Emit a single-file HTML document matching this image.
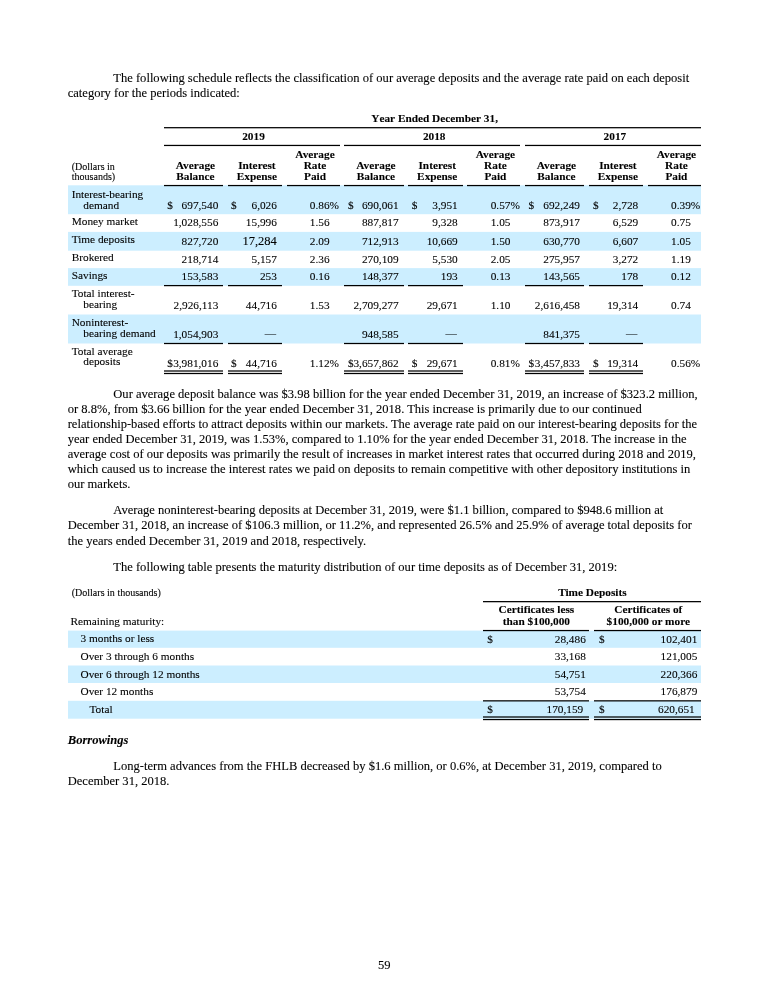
<!DOCTYPE html>
<html><head><meta charset="utf-8"><title>Page 59</title>
<style>
html,body{margin:0;padding:0;background:#fff;overflow:hidden;}
html{width:768px;height:993px;}
body{width:768px;height:993px;position:relative;overflow:hidden;font-family:"Liberation Serif",serif;color:#000;}
.t{position:absolute;white-space:nowrap;-webkit-text-stroke:0.1px #000;}
.b{font-weight:bold;}
.bi{font-weight:bold;font-style:italic;}
.r{position:absolute;}
#pg{position:absolute;left:0;top:0;width:768px;height:993px;overflow:hidden;will-change:transform;}
</style></head><body><div id="pg">
<div class="t" style="top:71px;font-size:12.55px;line-height:15px;left:113.30px;">The following schedule reflects the classification of our average deposits and the average rate paid on each deposit</div>
<div class="t" style="top:86px;font-size:12.55px;line-height:15px;left:67.70px;">category for the periods indicated:</div>
<div class="r" style="left:68px;top:186px;width:633px;height:28px;background:#cceeff"></div>
<div class="r" style="left:68px;top:185px;width:633px;height:1px;background:#dbf3ff"></div>
<div class="r" style="left:68px;top:214px;width:633px;height:1px;background:#f5fcff"></div>
<div class="r" style="left:68px;top:232px;width:633px;height:18px;background:#cceeff"></div>
<div class="r" style="left:68px;top:231px;width:633px;height:1px;background:#fafdff"></div>
<div class="r" style="left:68px;top:250px;width:633px;height:1px;background:#dbf3ff"></div>
<div class="r" style="left:68px;top:269px;width:633px;height:16px;background:#cceeff"></div>
<div class="r" style="left:68px;top:268px;width:633px;height:1px;background:#d1f0ff"></div>
<div class="r" style="left:68px;top:285px;width:633px;height:1px;background:#d6f1ff"></div>
<div class="r" style="left:68px;top:315px;width:633px;height:28px;background:#cceeff"></div>
<div class="r" style="left:68px;top:314px;width:633px;height:1px;background:#e6f6ff"></div>
<div class="r" style="left:68px;top:343px;width:633px;height:1px;background:#e6f6ff"></div>
<div class="t b" style="top:112px;font-size:11.3px;line-height:13px;left:354.60px;width:160px;text-align:center;font-kerning:none;">Year Ended December 31,</div>
<div class="r" style="left:164.00px;top:127px;width:537.00px;height:2px;background:linear-gradient(to bottom, rgba(0,0,0,0.925) 0px, rgba(0,0,0,0.925) 1px, rgba(0,0,0,0.325) 1px, rgba(0,0,0,0.325) 2px)"></div>
<div class="t b" style="top:130px;font-size:11.3px;line-height:13px;left:173.50px;width:160px;text-align:center;">2019</div>
<div class="t b" style="top:130px;font-size:11.3px;line-height:13px;left:354.20px;width:160px;text-align:center;">2018</div>
<div class="t b" style="top:130px;font-size:11.3px;line-height:13px;left:534.90px;width:160px;text-align:center;">2017</div>
<div class="r" style="left:164.00px;top:144px;width:176.00px;height:3px;background:linear-gradient(to bottom, rgba(0,0,0,0.175) 0px, rgba(0,0,0,0.175) 1px, rgba(0,0,0,1.000) 1px, rgba(0,0,0,1.000) 2px, rgba(0,0,0,0.075) 2px, rgba(0,0,0,0.075) 3px)"></div>
<div class="r" style="left:344.00px;top:144px;width:176.00px;height:3px;background:linear-gradient(to bottom, rgba(0,0,0,0.175) 0px, rgba(0,0,0,0.175) 1px, rgba(0,0,0,1.000) 1px, rgba(0,0,0,1.000) 2px, rgba(0,0,0,0.075) 2px, rgba(0,0,0,0.075) 3px)"></div>
<div class="r" style="left:525.00px;top:144px;width:176.00px;height:3px;background:linear-gradient(to bottom, rgba(0,0,0,0.175) 0px, rgba(0,0,0,0.175) 1px, rgba(0,0,0,1.000) 1px, rgba(0,0,0,1.000) 2px, rgba(0,0,0,0.075) 2px, rgba(0,0,0,0.075) 3px)"></div>
<div class="t" style="top:161px;font-size:10.04px;line-height:12px;left:71.70px;">(Dollars in</div>
<div class="t" style="top:171px;font-size:10.04px;line-height:12px;left:71.70px;">thousands)</div>
<div class="t b" style="top:159px;font-size:11.3px;line-height:13px;left:115.40px;width:160px;text-align:center;">Average</div>
<div class="t b" style="top:170px;font-size:11.3px;line-height:13px;left:115.40px;width:160px;text-align:center;">Balance</div>
<div class="r" style="left:164.00px;top:184px;width:59.00px;height:3px;background:linear-gradient(to bottom, rgba(0,0,0,0.075) 0px, rgba(0,0,0,0.075) 1px, rgba(0,0,0,1.000) 1px, rgba(0,0,0,1.000) 2px, rgba(0,0,0,0.175) 2px, rgba(0,0,0,0.175) 3px)"></div>
<div class="t b" style="top:159px;font-size:11.3px;line-height:13px;left:176.90px;width:160px;text-align:center;">Interest</div>
<div class="t b" style="top:170px;font-size:11.3px;line-height:13px;left:176.90px;width:160px;text-align:center;">Expense</div>
<div class="r" style="left:228.00px;top:184px;width:54.00px;height:3px;background:linear-gradient(to bottom, rgba(0,0,0,0.075) 0px, rgba(0,0,0,0.075) 1px, rgba(0,0,0,1.000) 1px, rgba(0,0,0,1.000) 2px, rgba(0,0,0,0.175) 2px, rgba(0,0,0,0.175) 3px)"></div>
<div class="t b" style="top:148px;font-size:11.3px;line-height:13px;left:235.00px;width:160px;text-align:center;">Average</div>
<div class="t b" style="top:159px;font-size:11.3px;line-height:13px;left:235.00px;width:160px;text-align:center;">Rate</div>
<div class="t b" style="top:170px;font-size:11.3px;line-height:13px;left:235.00px;width:160px;text-align:center;">Paid</div>
<div class="r" style="left:287.00px;top:184px;width:53.00px;height:3px;background:linear-gradient(to bottom, rgba(0,0,0,0.075) 0px, rgba(0,0,0,0.075) 1px, rgba(0,0,0,1.000) 1px, rgba(0,0,0,1.000) 2px, rgba(0,0,0,0.175) 2px, rgba(0,0,0,0.175) 3px)"></div>
<div class="t b" style="top:159px;font-size:11.3px;line-height:13px;left:295.90px;width:160px;text-align:center;">Average</div>
<div class="t b" style="top:170px;font-size:11.3px;line-height:13px;left:295.90px;width:160px;text-align:center;">Balance</div>
<div class="r" style="left:344.00px;top:184px;width:60.00px;height:3px;background:linear-gradient(to bottom, rgba(0,0,0,0.075) 0px, rgba(0,0,0,0.075) 1px, rgba(0,0,0,1.000) 1px, rgba(0,0,0,1.000) 2px, rgba(0,0,0,0.175) 2px, rgba(0,0,0,0.175) 3px)"></div>
<div class="t b" style="top:159px;font-size:11.3px;line-height:13px;left:357.20px;width:160px;text-align:center;">Interest</div>
<div class="t b" style="top:170px;font-size:11.3px;line-height:13px;left:357.20px;width:160px;text-align:center;">Expense</div>
<div class="r" style="left:408.00px;top:184px;width:55.00px;height:3px;background:linear-gradient(to bottom, rgba(0,0,0,0.075) 0px, rgba(0,0,0,0.075) 1px, rgba(0,0,0,1.000) 1px, rgba(0,0,0,1.000) 2px, rgba(0,0,0,0.175) 2px, rgba(0,0,0,0.175) 3px)"></div>
<div class="t b" style="top:148px;font-size:11.3px;line-height:13px;left:415.40px;width:160px;text-align:center;">Average</div>
<div class="t b" style="top:159px;font-size:11.3px;line-height:13px;left:415.40px;width:160px;text-align:center;">Rate</div>
<div class="t b" style="top:170px;font-size:11.3px;line-height:13px;left:415.40px;width:160px;text-align:center;">Paid</div>
<div class="r" style="left:467.00px;top:184px;width:53.00px;height:3px;background:linear-gradient(to bottom, rgba(0,0,0,0.075) 0px, rgba(0,0,0,0.075) 1px, rgba(0,0,0,1.000) 1px, rgba(0,0,0,1.000) 2px, rgba(0,0,0,0.175) 2px, rgba(0,0,0,0.175) 3px)"></div>
<div class="t b" style="top:159px;font-size:11.3px;line-height:13px;left:476.40px;width:160px;text-align:center;">Average</div>
<div class="t b" style="top:170px;font-size:11.3px;line-height:13px;left:476.40px;width:160px;text-align:center;">Balance</div>
<div class="r" style="left:525.00px;top:184px;width:59.00px;height:3px;background:linear-gradient(to bottom, rgba(0,0,0,0.075) 0px, rgba(0,0,0,0.075) 1px, rgba(0,0,0,1.000) 1px, rgba(0,0,0,1.000) 2px, rgba(0,0,0,0.175) 2px, rgba(0,0,0,0.175) 3px)"></div>
<div class="t b" style="top:159px;font-size:11.3px;line-height:13px;left:537.90px;width:160px;text-align:center;">Interest</div>
<div class="t b" style="top:170px;font-size:11.3px;line-height:13px;left:537.90px;width:160px;text-align:center;">Expense</div>
<div class="r" style="left:589.00px;top:184px;width:54.00px;height:3px;background:linear-gradient(to bottom, rgba(0,0,0,0.075) 0px, rgba(0,0,0,0.075) 1px, rgba(0,0,0,1.000) 1px, rgba(0,0,0,1.000) 2px, rgba(0,0,0,0.175) 2px, rgba(0,0,0,0.175) 3px)"></div>
<div class="t b" style="top:148px;font-size:11.3px;line-height:13px;left:596.40px;width:160px;text-align:center;">Average</div>
<div class="t b" style="top:159px;font-size:11.3px;line-height:13px;left:596.40px;width:160px;text-align:center;">Rate</div>
<div class="t b" style="top:170px;font-size:11.3px;line-height:13px;left:596.40px;width:160px;text-align:center;">Paid</div>
<div class="r" style="left:648.00px;top:184px;width:53.00px;height:3px;background:linear-gradient(to bottom, rgba(0,0,0,0.075) 0px, rgba(0,0,0,0.075) 1px, rgba(0,0,0,1.000) 1px, rgba(0,0,0,1.000) 2px, rgba(0,0,0,0.175) 2px, rgba(0,0,0,0.175) 3px)"></div>
<div class="t" style="top:188px;font-size:11.3px;line-height:13px;left:71.70px;">Interest-bearing</div>
<div class="t" style="top:199px;font-size:11.3px;line-height:13px;left:83.30px;">demand</div>
<div class="t" style="top:215px;font-size:11.3px;line-height:13px;left:71.70px;">Money market</div>
<div class="t" style="top:233px;font-size:11.3px;line-height:13px;left:71.70px;">Time deposits</div>
<div class="t" style="top:251px;font-size:11.3px;line-height:13px;left:71.70px;">Brokered</div>
<div class="t" style="top:269px;font-size:11.3px;line-height:13px;left:71.70px;">Savings</div>
<div class="t" style="top:287px;font-size:11.3px;line-height:13px;left:71.70px;">Total interest-</div>
<div class="t" style="top:298px;font-size:11.3px;line-height:13px;left:83.30px;">bearing</div>
<div class="t" style="top:316px;font-size:11.3px;line-height:13px;left:71.70px;">Noninterest-</div>
<div class="t" style="top:327px;font-size:11.3px;line-height:13px;left:83.30px;">bearing demand</div>
<div class="t" style="top:345px;font-size:11.3px;line-height:13px;left:71.70px;">Total average</div>
<div class="t" style="top:355px;font-size:11.3px;line-height:13px;left:83.30px;">deposits</div>
<div class="t" style="top:199px;font-size:11.3px;line-height:13px;right:549.70px;">697,540</div>
<div class="t" style="top:199px;font-size:11.3px;line-height:13px;left:167.20px;">$</div>
<div class="t" style="top:199px;font-size:11.3px;line-height:13px;right:491.10px;">6,026</div>
<div class="t" style="top:199px;font-size:11.3px;line-height:13px;left:230.90px;">$</div>
<div class="t" style="top:199px;font-size:11.3px;line-height:13px;left:309.80px;">0.86%</div>
<div class="t" style="top:199px;font-size:11.3px;line-height:13px;right:369.40px;">690,061</div>
<div class="t" style="top:199px;font-size:11.3px;line-height:13px;left:348.00px;">$</div>
<div class="t" style="top:199px;font-size:11.3px;line-height:13px;right:310.30px;">3,951</div>
<div class="t" style="top:199px;font-size:11.3px;line-height:13px;left:411.70px;">$</div>
<div class="t" style="top:199px;font-size:11.3px;line-height:13px;left:490.70px;">0.57%</div>
<div class="t" style="top:199px;font-size:11.3px;line-height:13px;right:188.00px;">692,249</div>
<div class="t" style="top:199px;font-size:11.3px;line-height:13px;left:528.60px;">$</div>
<div class="t" style="top:199px;font-size:11.3px;line-height:13px;right:129.80px;">2,728</div>
<div class="t" style="top:199px;font-size:11.3px;line-height:13px;left:593.00px;">$</div>
<div class="t" style="top:199px;font-size:11.3px;line-height:13px;left:671.10px;">0.39%</div>
<div class="t" style="top:216px;font-size:11.3px;line-height:13px;right:549.70px;">1,028,556</div>
<div class="t" style="top:216px;font-size:11.3px;line-height:13px;right:491.10px;">15,996</div>
<div class="t" style="top:216px;font-size:11.3px;line-height:13px;left:309.80px;">1.56</div>
<div class="t" style="top:216px;font-size:11.3px;line-height:13px;right:369.40px;">887,817</div>
<div class="t" style="top:216px;font-size:11.3px;line-height:13px;right:310.30px;">9,328</div>
<div class="t" style="top:216px;font-size:11.3px;line-height:13px;left:490.70px;">1.05</div>
<div class="t" style="top:216px;font-size:11.3px;line-height:13px;right:188.00px;">873,917</div>
<div class="t" style="top:216px;font-size:11.3px;line-height:13px;right:129.80px;">6,529</div>
<div class="t" style="top:216px;font-size:11.3px;line-height:13px;left:671.10px;">0.75</div>
<div class="t" style="top:235px;font-size:11.3px;line-height:13px;right:549.70px;">827,720</div>
<div class="t" style="top:234px;font-size:12.55px;line-height:15px;right:491.10px;">17,284</div>
<div class="t" style="top:235px;font-size:11.3px;line-height:13px;left:309.80px;">2.09</div>
<div class="t" style="top:235px;font-size:11.3px;line-height:13px;right:369.40px;">712,913</div>
<div class="t" style="top:235px;font-size:11.3px;line-height:13px;right:310.30px;">10,669</div>
<div class="t" style="top:235px;font-size:11.3px;line-height:13px;left:490.70px;">1.50</div>
<div class="t" style="top:235px;font-size:11.3px;line-height:13px;right:188.00px;">630,770</div>
<div class="t" style="top:235px;font-size:11.3px;line-height:13px;right:129.80px;">6,607</div>
<div class="t" style="top:235px;font-size:11.3px;line-height:13px;left:671.10px;">1.05</div>
<div class="t" style="top:253px;font-size:11.3px;line-height:13px;right:549.70px;">218,714</div>
<div class="t" style="top:253px;font-size:11.3px;line-height:13px;right:491.10px;">5,157</div>
<div class="t" style="top:253px;font-size:11.3px;line-height:13px;left:309.80px;">2.36</div>
<div class="t" style="top:253px;font-size:11.3px;line-height:13px;right:369.40px;">270,109</div>
<div class="t" style="top:253px;font-size:11.3px;line-height:13px;right:310.30px;">5,530</div>
<div class="t" style="top:253px;font-size:11.3px;line-height:13px;left:490.70px;">2.05</div>
<div class="t" style="top:253px;font-size:11.3px;line-height:13px;right:188.00px;">275,957</div>
<div class="t" style="top:253px;font-size:11.3px;line-height:13px;right:129.80px;">3,272</div>
<div class="t" style="top:253px;font-size:11.3px;line-height:13px;left:671.10px;">1.19</div>
<div class="t" style="top:270px;font-size:11.3px;line-height:13px;right:549.70px;">153,583</div>
<div class="t" style="top:270px;font-size:11.3px;line-height:13px;right:491.10px;">253</div>
<div class="t" style="top:270px;font-size:11.3px;line-height:13px;left:309.80px;">0.16</div>
<div class="t" style="top:270px;font-size:11.3px;line-height:13px;right:369.40px;">148,377</div>
<div class="t" style="top:270px;font-size:11.3px;line-height:13px;right:310.30px;">193</div>
<div class="t" style="top:270px;font-size:11.3px;line-height:13px;left:490.70px;">0.13</div>
<div class="t" style="top:270px;font-size:11.3px;line-height:13px;right:188.00px;">143,565</div>
<div class="t" style="top:270px;font-size:11.3px;line-height:13px;right:129.80px;">178</div>
<div class="t" style="top:270px;font-size:11.3px;line-height:13px;left:671.10px;">0.12</div>
<div class="t" style="top:299px;font-size:11.3px;line-height:13px;right:549.70px;">2,926,113</div>
<div class="t" style="top:299px;font-size:11.3px;line-height:13px;right:491.10px;">44,716</div>
<div class="t" style="top:299px;font-size:11.3px;line-height:13px;left:309.80px;">1.53</div>
<div class="t" style="top:299px;font-size:11.3px;line-height:13px;right:369.40px;">2,709,277</div>
<div class="t" style="top:299px;font-size:11.3px;line-height:13px;right:310.30px;">29,671</div>
<div class="t" style="top:299px;font-size:11.3px;line-height:13px;left:490.70px;">1.10</div>
<div class="t" style="top:299px;font-size:11.3px;line-height:13px;right:188.00px;">2,616,458</div>
<div class="t" style="top:299px;font-size:11.3px;line-height:13px;right:129.80px;">19,314</div>
<div class="t" style="top:299px;font-size:11.3px;line-height:13px;left:671.10px;">0.74</div>
<div class="t" style="top:328px;font-size:11.3px;line-height:13px;right:549.70px;">1,054,903</div>
<div class="t" style="top:327px;font-size:11.3px;line-height:13px;right:492.00px;">—</div>
<div class="t" style="top:328px;font-size:11.3px;line-height:13px;right:369.40px;">948,585</div>
<div class="t" style="top:327px;font-size:11.3px;line-height:13px;right:311.20px;">—</div>
<div class="t" style="top:328px;font-size:11.3px;line-height:13px;right:188.00px;">841,375</div>
<div class="t" style="top:327px;font-size:11.3px;line-height:13px;right:130.70px;">—</div>
<div class="t" style="top:357px;font-size:11.3px;line-height:13px;right:549.70px;">3,981,016</div>
<div class="t" style="top:357px;font-size:11.3px;line-height:13px;left:167.20px;">$</div>
<div class="t" style="top:357px;font-size:11.3px;line-height:13px;right:491.10px;">44,716</div>
<div class="t" style="top:357px;font-size:11.3px;line-height:13px;left:230.90px;">$</div>
<div class="t" style="top:357px;font-size:11.3px;line-height:13px;left:309.80px;">1.12%</div>
<div class="t" style="top:357px;font-size:11.3px;line-height:13px;right:369.40px;">3,657,862</div>
<div class="t" style="top:357px;font-size:11.3px;line-height:13px;left:348.00px;">$</div>
<div class="t" style="top:357px;font-size:11.3px;line-height:13px;right:310.30px;">29,671</div>
<div class="t" style="top:357px;font-size:11.3px;line-height:13px;left:411.70px;">$</div>
<div class="t" style="top:357px;font-size:11.3px;line-height:13px;left:490.70px;">0.81%</div>
<div class="t" style="top:357px;font-size:11.3px;line-height:13px;right:188.00px;">3,457,833</div>
<div class="t" style="top:357px;font-size:11.3px;line-height:13px;left:528.60px;">$</div>
<div class="t" style="top:357px;font-size:11.3px;line-height:13px;right:129.80px;">19,314</div>
<div class="t" style="top:357px;font-size:11.3px;line-height:13px;left:593.00px;">$</div>
<div class="t" style="top:357px;font-size:11.3px;line-height:13px;left:671.10px;">0.56%</div>
<div class="r" style="left:164.00px;top:284px;width:59.00px;height:3px;background:linear-gradient(to bottom, rgba(0,0,0,0.025) 0px, rgba(0,0,0,0.025) 1px, rgba(0,0,0,1.000) 1px, rgba(0,0,0,1.000) 2px, rgba(0,0,0,0.225) 2px, rgba(0,0,0,0.225) 3px)"></div>
<div class="r" style="left:164.00px;top:342px;width:59.00px;height:3px;background:linear-gradient(to bottom, rgba(0,0,0,0.125) 0px, rgba(0,0,0,0.125) 1px, rgba(0,0,0,1.000) 1px, rgba(0,0,0,1.000) 2px, rgba(0,0,0,0.125) 2px, rgba(0,0,0,0.125) 3px)"></div>
<div class="r" style="left:164.00px;top:370px;width:59.00px;height:2px;background:linear-gradient(to bottom, rgba(0,0,0,0.625) 0px, rgba(0,0,0,0.625) 1px, rgba(0,0,0,0.625) 1px, rgba(0,0,0,0.625) 2px)"></div>
<div class="r" style="left:164.00px;top:372px;width:59.00px;height:3px;background:linear-gradient(to bottom, rgba(0,0,0,0.125) 0px, rgba(0,0,0,0.125) 1px, rgba(0,0,0,1.000) 1px, rgba(0,0,0,1.000) 2px, rgba(0,0,0,0.125) 2px, rgba(0,0,0,0.125) 3px)"></div>
<div class="r" style="left:228.00px;top:284px;width:54.00px;height:3px;background:linear-gradient(to bottom, rgba(0,0,0,0.025) 0px, rgba(0,0,0,0.025) 1px, rgba(0,0,0,1.000) 1px, rgba(0,0,0,1.000) 2px, rgba(0,0,0,0.225) 2px, rgba(0,0,0,0.225) 3px)"></div>
<div class="r" style="left:228.00px;top:342px;width:54.00px;height:3px;background:linear-gradient(to bottom, rgba(0,0,0,0.125) 0px, rgba(0,0,0,0.125) 1px, rgba(0,0,0,1.000) 1px, rgba(0,0,0,1.000) 2px, rgba(0,0,0,0.125) 2px, rgba(0,0,0,0.125) 3px)"></div>
<div class="r" style="left:228.00px;top:370px;width:54.00px;height:2px;background:linear-gradient(to bottom, rgba(0,0,0,0.625) 0px, rgba(0,0,0,0.625) 1px, rgba(0,0,0,0.625) 1px, rgba(0,0,0,0.625) 2px)"></div>
<div class="r" style="left:228.00px;top:372px;width:54.00px;height:3px;background:linear-gradient(to bottom, rgba(0,0,0,0.125) 0px, rgba(0,0,0,0.125) 1px, rgba(0,0,0,1.000) 1px, rgba(0,0,0,1.000) 2px, rgba(0,0,0,0.125) 2px, rgba(0,0,0,0.125) 3px)"></div>
<div class="r" style="left:344.00px;top:284px;width:60.00px;height:3px;background:linear-gradient(to bottom, rgba(0,0,0,0.025) 0px, rgba(0,0,0,0.025) 1px, rgba(0,0,0,1.000) 1px, rgba(0,0,0,1.000) 2px, rgba(0,0,0,0.225) 2px, rgba(0,0,0,0.225) 3px)"></div>
<div class="r" style="left:344.00px;top:342px;width:60.00px;height:3px;background:linear-gradient(to bottom, rgba(0,0,0,0.125) 0px, rgba(0,0,0,0.125) 1px, rgba(0,0,0,1.000) 1px, rgba(0,0,0,1.000) 2px, rgba(0,0,0,0.125) 2px, rgba(0,0,0,0.125) 3px)"></div>
<div class="r" style="left:344.00px;top:370px;width:60.00px;height:2px;background:linear-gradient(to bottom, rgba(0,0,0,0.625) 0px, rgba(0,0,0,0.625) 1px, rgba(0,0,0,0.625) 1px, rgba(0,0,0,0.625) 2px)"></div>
<div class="r" style="left:344.00px;top:372px;width:60.00px;height:3px;background:linear-gradient(to bottom, rgba(0,0,0,0.125) 0px, rgba(0,0,0,0.125) 1px, rgba(0,0,0,1.000) 1px, rgba(0,0,0,1.000) 2px, rgba(0,0,0,0.125) 2px, rgba(0,0,0,0.125) 3px)"></div>
<div class="r" style="left:408.00px;top:284px;width:55.00px;height:3px;background:linear-gradient(to bottom, rgba(0,0,0,0.025) 0px, rgba(0,0,0,0.025) 1px, rgba(0,0,0,1.000) 1px, rgba(0,0,0,1.000) 2px, rgba(0,0,0,0.225) 2px, rgba(0,0,0,0.225) 3px)"></div>
<div class="r" style="left:408.00px;top:342px;width:55.00px;height:3px;background:linear-gradient(to bottom, rgba(0,0,0,0.125) 0px, rgba(0,0,0,0.125) 1px, rgba(0,0,0,1.000) 1px, rgba(0,0,0,1.000) 2px, rgba(0,0,0,0.125) 2px, rgba(0,0,0,0.125) 3px)"></div>
<div class="r" style="left:408.00px;top:370px;width:55.00px;height:2px;background:linear-gradient(to bottom, rgba(0,0,0,0.625) 0px, rgba(0,0,0,0.625) 1px, rgba(0,0,0,0.625) 1px, rgba(0,0,0,0.625) 2px)"></div>
<div class="r" style="left:408.00px;top:372px;width:55.00px;height:3px;background:linear-gradient(to bottom, rgba(0,0,0,0.125) 0px, rgba(0,0,0,0.125) 1px, rgba(0,0,0,1.000) 1px, rgba(0,0,0,1.000) 2px, rgba(0,0,0,0.125) 2px, rgba(0,0,0,0.125) 3px)"></div>
<div class="r" style="left:525.00px;top:284px;width:59.00px;height:3px;background:linear-gradient(to bottom, rgba(0,0,0,0.025) 0px, rgba(0,0,0,0.025) 1px, rgba(0,0,0,1.000) 1px, rgba(0,0,0,1.000) 2px, rgba(0,0,0,0.225) 2px, rgba(0,0,0,0.225) 3px)"></div>
<div class="r" style="left:525.00px;top:342px;width:59.00px;height:3px;background:linear-gradient(to bottom, rgba(0,0,0,0.125) 0px, rgba(0,0,0,0.125) 1px, rgba(0,0,0,1.000) 1px, rgba(0,0,0,1.000) 2px, rgba(0,0,0,0.125) 2px, rgba(0,0,0,0.125) 3px)"></div>
<div class="r" style="left:525.00px;top:370px;width:59.00px;height:2px;background:linear-gradient(to bottom, rgba(0,0,0,0.625) 0px, rgba(0,0,0,0.625) 1px, rgba(0,0,0,0.625) 1px, rgba(0,0,0,0.625) 2px)"></div>
<div class="r" style="left:525.00px;top:372px;width:59.00px;height:3px;background:linear-gradient(to bottom, rgba(0,0,0,0.125) 0px, rgba(0,0,0,0.125) 1px, rgba(0,0,0,1.000) 1px, rgba(0,0,0,1.000) 2px, rgba(0,0,0,0.125) 2px, rgba(0,0,0,0.125) 3px)"></div>
<div class="r" style="left:589.00px;top:284px;width:54.00px;height:3px;background:linear-gradient(to bottom, rgba(0,0,0,0.025) 0px, rgba(0,0,0,0.025) 1px, rgba(0,0,0,1.000) 1px, rgba(0,0,0,1.000) 2px, rgba(0,0,0,0.225) 2px, rgba(0,0,0,0.225) 3px)"></div>
<div class="r" style="left:589.00px;top:342px;width:54.00px;height:3px;background:linear-gradient(to bottom, rgba(0,0,0,0.125) 0px, rgba(0,0,0,0.125) 1px, rgba(0,0,0,1.000) 1px, rgba(0,0,0,1.000) 2px, rgba(0,0,0,0.125) 2px, rgba(0,0,0,0.125) 3px)"></div>
<div class="r" style="left:589.00px;top:370px;width:54.00px;height:2px;background:linear-gradient(to bottom, rgba(0,0,0,0.625) 0px, rgba(0,0,0,0.625) 1px, rgba(0,0,0,0.625) 1px, rgba(0,0,0,0.625) 2px)"></div>
<div class="r" style="left:589.00px;top:372px;width:54.00px;height:3px;background:linear-gradient(to bottom, rgba(0,0,0,0.125) 0px, rgba(0,0,0,0.125) 1px, rgba(0,0,0,1.000) 1px, rgba(0,0,0,1.000) 2px, rgba(0,0,0,0.125) 2px, rgba(0,0,0,0.125) 3px)"></div>
<div class="t" style="top:387px;font-size:12.55px;line-height:15px;left:113.30px;">Our average deposit balance was $3.98 billion for the year ended December 31, 2019, an increase of $323.2 million,</div>
<div class="t" style="top:402px;font-size:12.55px;line-height:15px;left:67.70px;">or 8.8%, from $3.66 billion for the year ended December 31, 2018. This increase is primarily due to our continued</div>
<div class="t" style="top:417px;font-size:12.55px;line-height:15px;left:67.70px;">relationship-based efforts to attract deposits within our markets. The average rate paid on our interest-bearing deposits for the</div>
<div class="t" style="top:432px;font-size:12.55px;line-height:15px;left:67.70px;">year ended December 31, 2019, was 1.53%, compared to 1.10% for the year ended December 31, 2018. The increase in the</div>
<div class="t" style="top:447px;font-size:12.55px;line-height:15px;left:67.70px;">average cost of our deposits was primarily the result of increases in market interest rates that occurred during 2018 and 2019,</div>
<div class="t" style="top:462px;font-size:12.55px;line-height:15px;left:67.70px;">which caused us to increase the interest rates we paid on deposits to remain competitive with other depository institutions in</div>
<div class="t" style="top:477px;font-size:12.55px;line-height:15px;left:67.70px;">our markets.</div>
<div class="t" style="top:503px;font-size:12.55px;line-height:15px;left:113.30px;">Average noninterest-bearing deposits at December 31, 2019, were $1.1 billion, compared to $948.6 million at</div>
<div class="t" style="top:518px;font-size:12.55px;line-height:15px;left:67.70px;">December 31, 2018, an increase of $106.3 million, or 11.2%, and represented 26.5% and 25.9% of average total deposits for</div>
<div class="t" style="top:534px;font-size:12.55px;line-height:15px;left:67.70px;">the years ended December 31, 2019 and 2018, respectively.</div>
<div class="t" style="top:560px;font-size:12.55px;line-height:15px;left:113.30px;">The following table presents the maturity distribution of our time deposits as of December 31, 2019:</div>
<div class="t" style="top:587px;font-size:10.04px;line-height:12px;left:71.70px;">(Dollars in thousands)</div>
<div class="t b" style="top:586px;font-size:11.3px;line-height:13px;left:512.40px;width:160px;text-align:center;">Time Deposits</div>
<div class="r" style="left:482.50px;top:601px;width:218.10px;height:2px;background:linear-gradient(to bottom, rgba(0,0,0,0.975) 0px, rgba(0,0,0,0.975) 1px, rgba(0,0,0,0.275) 1px, rgba(0,0,0,0.275) 2px)"></div>
<div class="t b" style="top:603px;font-size:11.3px;line-height:13px;left:456.40px;width:160px;text-align:center;">Certificates less</div>
<div class="t b" style="top:615px;font-size:11.3px;line-height:13px;left:456.40px;width:160px;text-align:center;">than $100,000</div>
<div class="t b" style="top:603px;font-size:11.3px;line-height:13px;left:568.30px;width:160px;text-align:center;">Certificates of</div>
<div class="t b" style="top:615px;font-size:11.3px;line-height:13px;left:568.30px;width:160px;text-align:center;">$100,000 or more</div>
<div class="t" style="top:615px;font-size:11.3px;line-height:13px;left:70.40px;">Remaining maturity:</div>
<div class="r" style="left:68px;top:631px;width:633px;height:16px;background:#cceeff"></div>
<div class="r" style="left:68px;top:630px;width:633px;height:1px;background:#ebf8ff"></div>
<div class="r" style="left:68px;top:647px;width:633px;height:1px;background:#d6f1ff"></div>
<div class="r" style="left:68px;top:666px;width:633px;height:17px;background:#cceeff"></div>
<div class="r" style="left:68px;top:665px;width:633px;height:1px;background:#e6f6ff"></div>
<div class="r" style="left:68px;top:701px;width:633px;height:17px;background:#cceeff"></div>
<div class="r" style="left:68px;top:700px;width:633px;height:1px;background:#f5fcff"></div>
<div class="r" style="left:68px;top:718px;width:633px;height:1px;background:#dbf3ff"></div>
<div class="r" style="left:482.50px;top:629px;width:106.50px;height:3px;background:linear-gradient(to bottom, rgba(0,0,0,0.075) 0px, rgba(0,0,0,0.075) 1px, rgba(0,0,0,1.000) 1px, rgba(0,0,0,1.000) 2px, rgba(0,0,0,0.175) 2px, rgba(0,0,0,0.175) 3px)"></div>
<div class="r" style="left:594.20px;top:629px;width:106.40px;height:3px;background:linear-gradient(to bottom, rgba(0,0,0,0.075) 0px, rgba(0,0,0,0.075) 1px, rgba(0,0,0,1.000) 1px, rgba(0,0,0,1.000) 2px, rgba(0,0,0,0.175) 2px, rgba(0,0,0,0.175) 3px)"></div>
<div class="t" style="top:632px;font-size:11.3px;line-height:13px;left:80.50px;">3 months or less</div>
<div class="t" style="top:633px;font-size:11.3px;line-height:13px;right:182.20px;">28,486</div>
<div class="t" style="top:633px;font-size:11.3px;line-height:13px;right:70.70px;">102,401</div>
<div class="t" style="top:633px;font-size:11.3px;line-height:13px;left:487.20px;">$</div>
<div class="t" style="top:633px;font-size:11.3px;line-height:13px;left:599.00px;">$</div>
<div class="t" style="top:650px;font-size:11.3px;line-height:13px;left:80.50px;">Over 3 through 6 months</div>
<div class="t" style="top:650px;font-size:11.3px;line-height:13px;right:182.20px;">33,168</div>
<div class="t" style="top:650px;font-size:11.3px;line-height:13px;right:70.70px;">121,005</div>
<div class="t" style="top:668px;font-size:11.3px;line-height:13px;left:80.50px;">Over 6 through 12 months</div>
<div class="t" style="top:668px;font-size:11.3px;line-height:13px;right:182.20px;">54,751</div>
<div class="t" style="top:668px;font-size:11.3px;line-height:13px;right:70.70px;">220,366</div>
<div class="t" style="top:685px;font-size:11.3px;line-height:13px;left:80.50px;">Over 12 months</div>
<div class="t" style="top:685px;font-size:11.3px;line-height:13px;right:182.20px;">53,754</div>
<div class="t" style="top:685px;font-size:11.3px;line-height:13px;right:70.70px;">176,879</div>
<div class="t" style="top:703px;font-size:11.3px;line-height:13px;left:89.50px;">Total</div>
<div class="t" style="top:703px;font-size:11.3px;line-height:13px;right:184.80px;">170,159</div>
<div class="t" style="top:703px;font-size:11.3px;line-height:13px;right:73.30px;">620,651</div>
<div class="t" style="top:703px;font-size:11.3px;line-height:13px;left:487.20px;">$</div>
<div class="t" style="top:703px;font-size:11.3px;line-height:13px;left:599.00px;">$</div>
<div class="r" style="left:482.50px;top:700px;width:106.50px;height:2px;background:linear-gradient(to bottom, rgba(0,0,0,0.775) 0px, rgba(0,0,0,0.775) 1px, rgba(0,0,0,0.475) 1px, rgba(0,0,0,0.475) 2px)"></div>
<div class="r" style="left:482.50px;top:716px;width:106.50px;height:2px;background:linear-gradient(to bottom, rgba(0,0,0,0.625) 0px, rgba(0,0,0,0.625) 1px, rgba(0,0,0,0.625) 1px, rgba(0,0,0,0.625) 2px)"></div>
<div class="r" style="left:482.50px;top:718px;width:106.50px;height:3px;background:linear-gradient(to bottom, rgba(0,0,0,0.075) 0px, rgba(0,0,0,0.075) 1px, rgba(0,0,0,1.000) 1px, rgba(0,0,0,1.000) 2px, rgba(0,0,0,0.175) 2px, rgba(0,0,0,0.175) 3px)"></div>
<div class="r" style="left:594.20px;top:700px;width:106.40px;height:2px;background:linear-gradient(to bottom, rgba(0,0,0,0.775) 0px, rgba(0,0,0,0.775) 1px, rgba(0,0,0,0.475) 1px, rgba(0,0,0,0.475) 2px)"></div>
<div class="r" style="left:594.20px;top:716px;width:106.40px;height:2px;background:linear-gradient(to bottom, rgba(0,0,0,0.625) 0px, rgba(0,0,0,0.625) 1px, rgba(0,0,0,0.625) 1px, rgba(0,0,0,0.625) 2px)"></div>
<div class="r" style="left:594.20px;top:718px;width:106.40px;height:3px;background:linear-gradient(to bottom, rgba(0,0,0,0.075) 0px, rgba(0,0,0,0.075) 1px, rgba(0,0,0,1.000) 1px, rgba(0,0,0,1.000) 2px, rgba(0,0,0,0.175) 2px, rgba(0,0,0,0.175) 3px)"></div>
<div class="t bi" style="top:733px;font-size:12.55px;line-height:15px;left:67.80px;">Borrowings</div>
<div class="t" style="top:759px;font-size:12.55px;line-height:15px;left:113.30px;">Long-term advances from the FHLB decreased by $1.6 million, or 0.6%, at December 31, 2019, compared to</div>
<div class="t" style="top:774px;font-size:12.55px;line-height:15px;left:67.70px;">December 31, 2018.</div>
<div class="t" style="top:958px;font-size:12.55px;line-height:15px;left:304.20px;width:160px;text-align:center;">59</div>
</div></body></html>
